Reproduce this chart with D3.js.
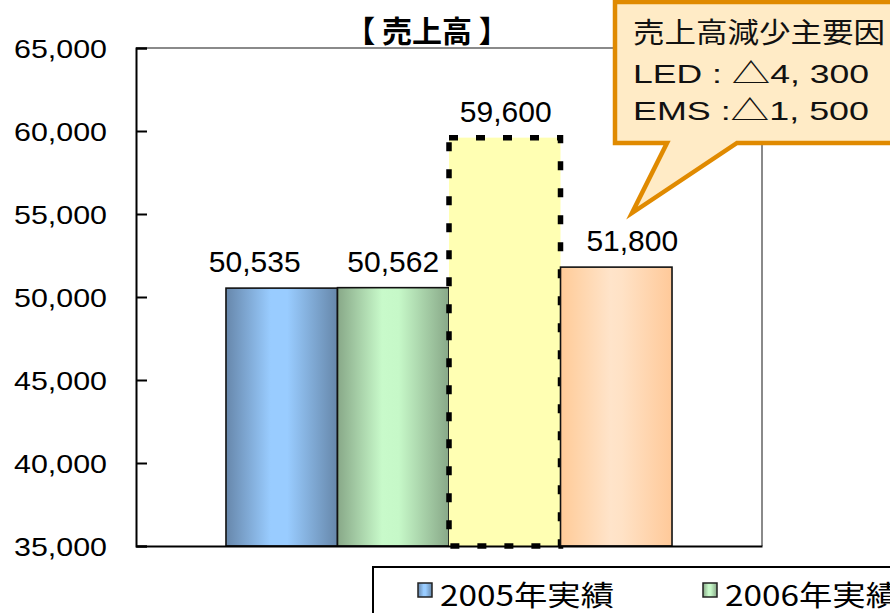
<!DOCTYPE html>
<html><head><meta charset="utf-8">
<script src="https://cdn.jsdelivr.net/npm/d3@7"></script>
<style>body{margin:0;background:#fff;} svg{display:block;}</style>
</head><body>
<svg id="c" width="890" height="613"></svg>
<script>
const series = ["2005年実績", "2006年実績", "2007年当初計画", "2007年見込"];
const values = [50535, 50562, 59600, 51800];
const valueLabels = ["50,535", "50,562", "59,600", "51,800"];
const yTicks = [35000, 40000, 45000, 50000, 55000, 60000, 65000];
const title = "【 売上高 】";
const calloutLines = ["売上高減少主要因", "LED : △4, 300", "EMS :△1, 500"];

const svg = d3.select("#c");
const plot = {l: 136, r: 762, t: 48, b: 546};

const x = d3.scaleBand().domain(series).range([plot.l, plot.r]).paddingInner(0).paddingOuter(0.807);
const y = d3.scaleLinear().domain([35000, 65000]).range([plot.b, plot.t]);

const defs = svg.append("defs");
function grad(id, stops) {
  const g = defs.append("linearGradient").attr("id", id).attr("x1", "0").attr("x2", "1").attr("y1", "0").attr("y2", "0");
  stops.forEach(s => g.append("stop").attr("offset", s[0]).attr("stop-color", s[1]));
}
grad("gBlue", [[0, "#6787AB"], [0.4, "#99CCFF"], [0.55, "#99CCFF"], [1, "#6687AA"]]);
grad("gGreen", [[0, "#88A888"], [0.4, "#C8FACA"], [0.55, "#C6F8C8"], [1, "#88A888"]]);
grad("gPeach", [[0, "#FFCB98"], [0.45, "#FFE4CA"], [0.55, "#FFE2C6"], [1, "#FFC999"]]);
const fills = ["url(#gBlue)", "url(#gGreen)", "#FFFFB3", "url(#gPeach)"];

const numFont = "'Liberation Sans', Arial, sans-serif";
const jpFont = "'Noto Sans CJK JP', sans-serif";

// plot frame (top & right gray)
svg.append("line").attr("x1", plot.l).attr("x2", plot.r).attr("y1", plot.t).attr("y2", plot.t).attr("stroke", "#8a8a8a").attr("stroke-width", 2);
svg.append("line").attr("x1", plot.r).attr("x2", plot.r).attr("y1", plot.t).attr("y2", plot.b).attr("stroke", "#8a8a8a").attr("stroke-width", 2);

// bars
series.forEach((s, i) => {
  const r = svg.append("rect")
    .attr("x", x(s)).attr("width", x.bandwidth())
    .attr("y", y(values[i])).attr("height", y(35000) - y(values[i]))
    .attr("fill", fills[i]);
  if (i === 2) {
    r.attr("stroke", "#000").attr("stroke-width", 5.5).attr("stroke-dasharray", "9,18");
  } else {
    r.attr("stroke", "#111").attr("stroke-width", 1.6);
  }
});

// value labels (hand-placed in the original; small horizontal nudges)
const labelNudge = [-27, 0, 1, 16];
series.forEach((s, i) => {
  svg.append("text").attr("x", x(s) + x.bandwidth() / 2 + labelNudge[i]).attr("y", y(values[i]) - 16)
    .attr("text-anchor", "middle").attr("font-family", numFont).attr("font-size", 30)
    .attr("fill", "#000").text(valueLabels[i]);
});

// axes
const yAxis = d3.axisLeft(y).tickValues(yTicks).tickSize(-11).tickPadding(29).tickFormat(d3.format(","));
const ya = svg.append("g").attr("transform", `translate(${plot.l},0)`).call(yAxis);
ya.select(".domain").attr("stroke", "#000").attr("stroke-width", 2);
ya.selectAll(".tick line").attr("stroke", "#000").attr("stroke-width", 2);
ya.selectAll(".tick text").attr("font-family", numFont).attr("font-size", 25)
  .attr("textLength", 93).attr("lengthAdjust", "spacingAndGlyphs")
  .attr("fill", "#000").attr("dy", "0.36em");

const xAxis = d3.axisBottom(x).tickSize(0).tickFormat("");
const xa = svg.append("g").attr("transform", `translate(0,${plot.b})`).call(xAxis);
xa.select(".domain").attr("stroke", "#000").attr("stroke-width", 2);

// title
svg.append("text").attr("x", 427).attr("y", 42).attr("text-anchor", "middle")
  .attr("font-family", jpFont).attr("font-weight", "bold").attr("font-size", 30).attr("fill", "#000").text(title);

// callout
svg.append("path").attr("d", "M615,2 H894 V143 H737 L632,213 L667,143 H615 Z")
  .attr("fill", "#FFEBC6").attr("stroke", "#E08A00").attr("stroke-width", 4.5).attr("stroke-linejoin", "miter");
const cY = [43, 83, 120];
const cLen = [252, 236, 236];
calloutLines.forEach((t, i) => {
  const tx = svg.append("text").attr("x", 633).attr("y", cY[i])
    .attr("font-family", i === 0 ? jpFont : numFont).attr("font-size", i === 0 ? 28 : 25)
    .attr("textLength", cLen[i]).attr("lengthAdjust", "spacingAndGlyphs").attr("fill", "#111");
  if (i === 0) { tx.text(t); return; }
  t.split(/(△)/).forEach(part => {
    if (!part) return;
    const sp = tx.append("tspan").text(part);
    if (part === "△") sp.attr("font-family", jpFont).attr("font-size", 27);
  });
});

// legend
svg.append("rect").attr("x", 373).attr("y", 567).attr("width", 600).attr("height", 80)
  .attr("fill", "#fff").attr("stroke", "#000").attr("stroke-width", 2);
series.forEach((s, i) => {
  const lx = 418 + i * 285;
  svg.append("rect").attr("x", lx).attr("y", 583).attr("width", 14).attr("height", 14)
    .attr("fill", fills[i]).attr("stroke", "#222").attr("stroke-width", 1.5);
  svg.append("text").attr("x", lx + 22).attr("y", 606).attr("font-family", jpFont).attr("font-size", 28)
    .attr("textLength", 174).attr("lengthAdjust", "spacingAndGlyphs")
    .attr("fill", "#000").text(s);
});
</script>
</body></html>
